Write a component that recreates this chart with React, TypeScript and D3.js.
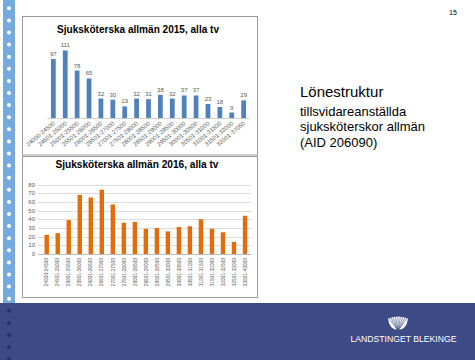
import React from 'react';
import * as d3 from 'd3';

// lönespann (kr) och antal anställda
const bands2015 = [
  '24000-24500', '24501-25000', '25001-25500', '25501-26000', '26001-26500',
  '26501-27000', '27001-27500', '27501-28000', '28001-28500', '28501-29000',
  '29001-29500', '29501-30000', '30001-30500', '30501-31000', '31001-31500',
  '31501-32000', '32001-37050',
];
const counts2015 = [97, 111, 78, 65, 32, 30, 19, 32, 31, 38, 32, 37, 37, 23, 18, 9, 29];

const bands2016 = [
  '24000-24500', '24501-25000', '25001-25500', '25501-26000', '26001-26500',
  '26501-27000', '27001-27500', '27501-28000', '28001-28500', '28501-29000',
  '29001-29500', '29501-30000', '30001-30500', '30501-31000', '31001-31500',
  '31501-32000', '32001-32500', '32501-33000', '33001-40000',
];
const counts2016 = [22, 24, 39, 68, 65, 74, 57, 36, 37, 29, 30, 26, 31, 32, 40, 29, 25, 14, 44];
const yTicks2016 = [0, 10, 20, 30, 40, 50, 60, 70, 80];

const title2015 = 'Sjuksköterska allmän 2015, alla tv';
const title2016 = 'Sjuksköterska allmän 2016, alla tv';
const sideLines = ['tillsvidareanställda', 'sjuksköterskor allmän', '(AID 206090)'];

const W = 475;
const H = 360;
const FONT = '"Liberation Sans", Arial, sans-serif';
const GREY = '#595959';
const BLUE = '#4f81bd';
const ORANGE = '#e46c0a';
const NAVY = '#3c4a86';

export default function App() {
  // 2015
  const x1 = d3.scaleBand<string>().domain(bands2015).range([47.4, 249.6]).paddingInner(0.6).paddingOuter(0.3);
  const y1 = d3.scaleLinear().domain([0, 120]).range([118, 45]);

  // 2016
  const x2 = d3.scaleBand<string>().domain(bands2016).range([41.2, 250.5]).paddingInner(0.6).paddingOuter(0.3);
  const y2 = d3.scaleLinear().domain([0, 80]).range([254, 184.5]);

  const dots = d3.range(0, 30).map(i => 8.3 + i * 12.1);
  const bandTop = 303;

  return (
    <svg width={W} height={H} style={{ position: 'absolute', left: 0, top: 0, display: 'block' }} fontFamily={FONT}>
      <rect width={W} height={H} fill="#fff" />

      {/* vänster remsa */}
      <rect x={3} y={0} width={12} height={bandTop} fill="#74abde" />
      <rect x={0} y={bandTop} width={W} height={H - bandTop} fill={NAVY} />
      {dots.map((d, i) => (
        <circle key={i} cx={9} cy={d} r={2} fill={d < bandTop - 2 ? '#fff' : '#26306a'} />
      ))}

      {/* sidnummer */}
      <text x={453} y={15} fontSize={7} textAnchor="middle" fill="#000">15</text>

      {/* diagram 2015 */}
      <rect x={22.5} y={16.5} width={235} height={138.5} fill="#fff" stroke="#9a9a9a" strokeWidth={1} />
      <text x={138} y={33} fontSize={10.5} fontWeight="bold" textAnchor="middle" fill="#000"
        textLength={162} lengthAdjust="spacingAndGlyphs">{title2015}</text>
      <line x1={x1.range()[0]} x2={x1.range()[1]} y1={y1(0) + 0.5} y2={y1(0) + 0.5} stroke="#d0d0d0" />
      {bands2015.map((b, i) => (
        <g key={b}>
          <rect x={x1(b)} y={y1(counts2015[i])} width={x1.bandwidth()} height={y1(0) - y1(counts2015[i])} fill={BLUE} />
          <text x={(x1(b) ?? 0) + x1.bandwidth() / 2} y={y1(counts2015[i]) - 3} fontSize={6} textAnchor="middle" fill={GREY}>
            {counts2015[i]}
          </text>
          <text transform={`translate(${(x1(b) ?? 0) + x1.bandwidth() / 2 + 2},${y1(0) + 6}) rotate(-40)`}
            fontSize={6} textAnchor="end" fill={GREY}>{b}</text>
        </g>
      ))}

      {/* diagram 2016 */}
      <rect x={22.5} y={156.5} width={235} height={141} fill="#fff" stroke="#9a9a9a" strokeWidth={1} />
      <text x={137} y={167.5} fontSize={10.5} fontWeight="bold" textAnchor="middle" fill="#000"
        textLength={163} lengthAdjust="spacingAndGlyphs">{title2016}</text>
      {yTicks2016.map(t => (
        <g key={t}>
          <line x1={38} x2={251} y1={Math.round(y2(t)) + 0.5} y2={Math.round(y2(t)) + 0.5}
            stroke={t === 0 ? '#bfbfbf' : '#dcdcdc'} />
          <text x={35} y={y2(t) + 2} fontSize={6} textAnchor="end" fill={GREY}>{t}</text>
        </g>
      ))}
      {bands2016.map((b, i) => (
        <g key={b}>
          <rect x={x2(b)} y={y2(counts2016[i])} width={x2.bandwidth()} height={y2(0) - y2(counts2016[i])} fill={ORANGE} />
          <text transform={`translate(${(x2(b) ?? 0) + x2.bandwidth() / 2 + 1.7},${y2(0) + 4}) rotate(-90)`}
            fontSize={4.8} textAnchor="end" fill={GREY}>{b}</text>
        </g>
      ))}

      {/* text till höger */}
      <text x={300} y={97} fontSize={15} fill="#000">Lönestruktur</text>
      {sideLines.map((s, i) => (
        <text key={s} x={300} y={116 + i * 15.3} fontSize={13} fill="#000">{s}</text>
      ))}

      {/* logotyp */}
      <g>
        <path d="M388,318.5 Q398,314.5 408,318.5 Q406.5,330 398,330 Q389.5,330 388,318.5 Z" fill="#fff" />
        {d3.range(-4, 5).map(k => (
          <line key={k} x1={398} y1={331} x2={398 + k * 2.6} y2={316} stroke={NAVY} strokeWidth={0.6} />
        ))}
        <text x={403.5} y={342} fontSize={8.5} fill="#fff" textAnchor="middle" textLength={106}
          lengthAdjust="spacingAndGlyphs">LANDSTINGET BLEKINGE</text>
      </g>
    </svg>
  );
}
